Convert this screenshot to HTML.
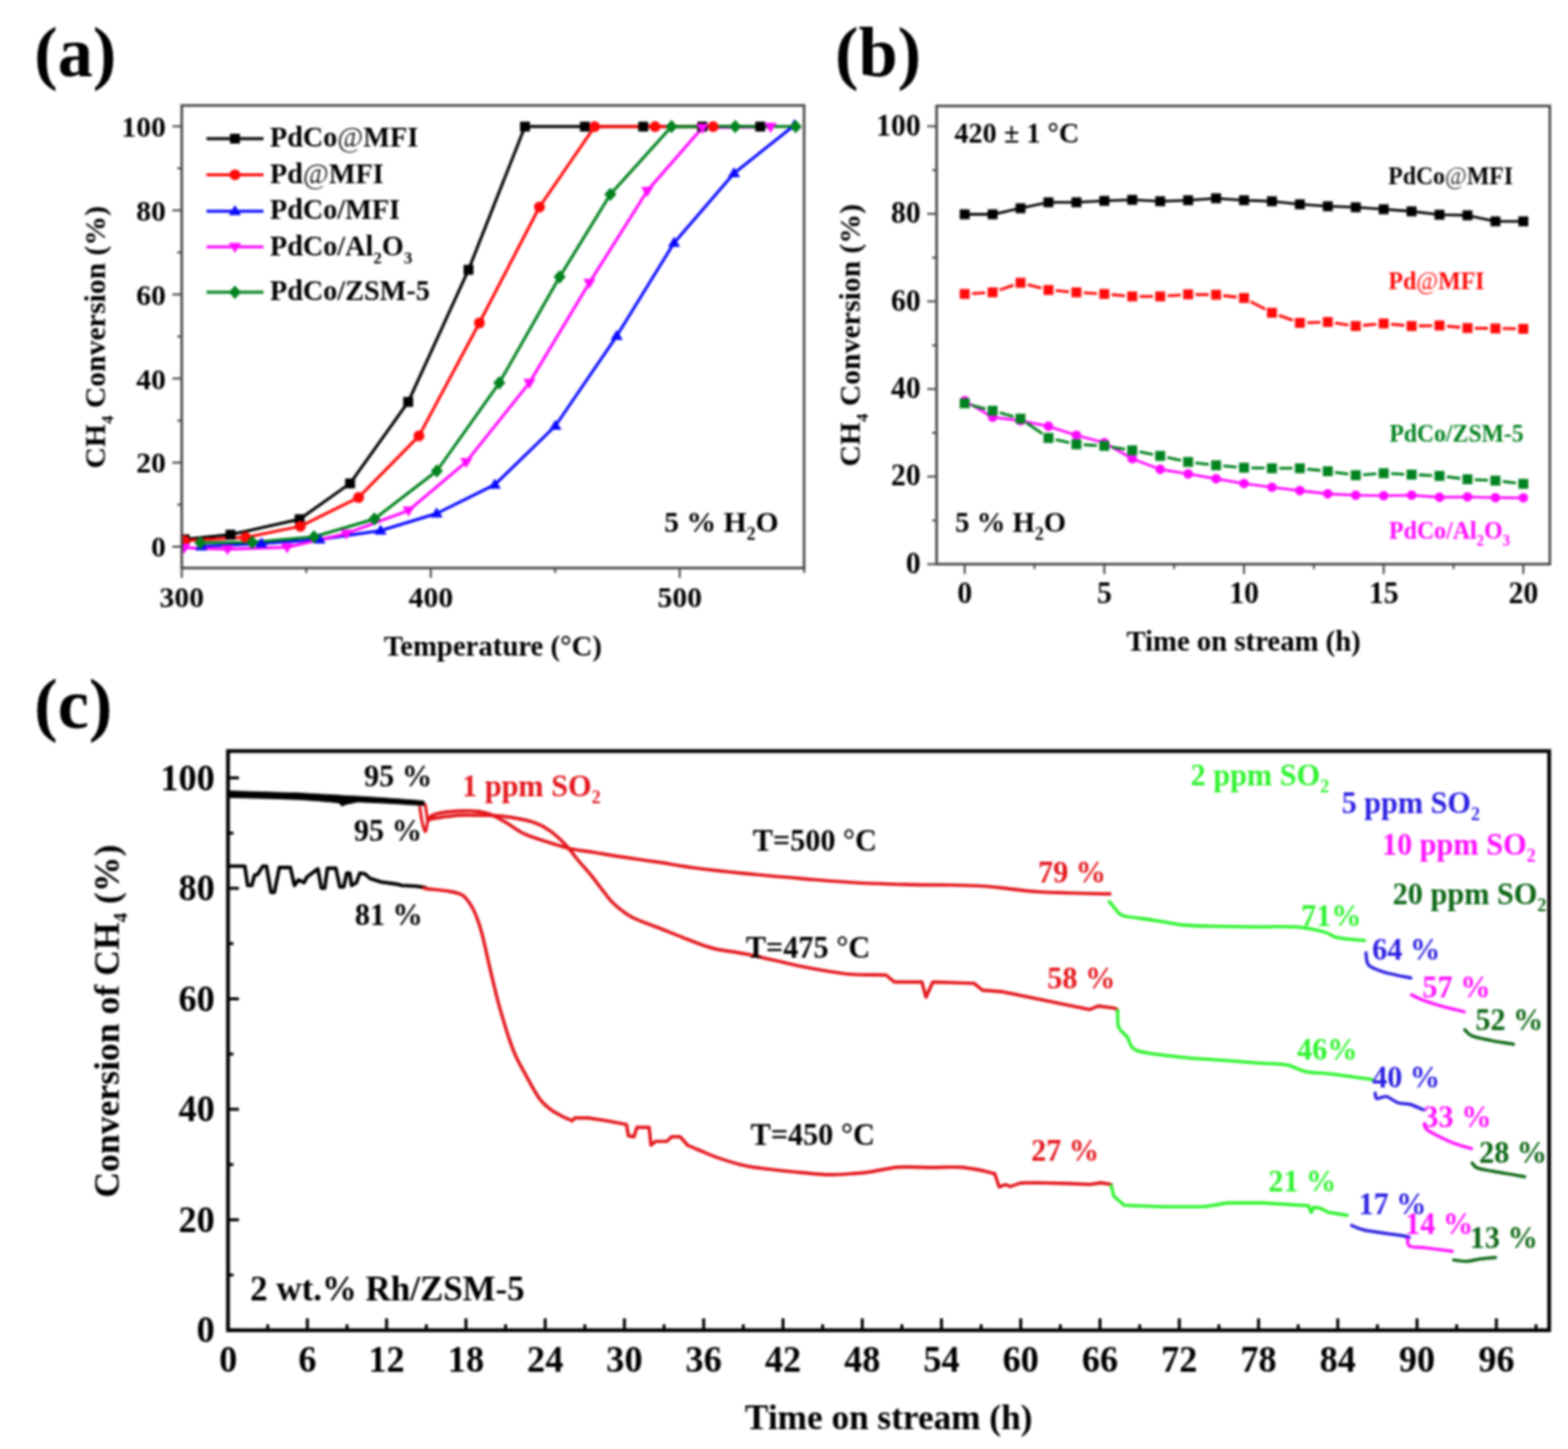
<!DOCTYPE html><html><head><meta charset="utf-8"><title>CH4 conversion figure</title><style>html,body{margin:0;padding:0;background:#fff;overflow:hidden}svg{display:block;filter:blur(0.8px)}text{font-family:'Liberation Serif','Times New Roman',serif;font-weight:bold}</style></head><body>
<svg width="1583" height="1463" viewBox="0 0 1583 1463">
<rect width="1583" height="1463" fill="#fff"/>
<text x="34.5" y="77.2" font-size="71" text-anchor="start" fill="#000" >(a)</text>
<text x="843" y="77.2" font-size="71" text-anchor="start" fill="#000" >(b)</text>
<text x="34.5" y="735" font-size="71" text-anchor="start" fill="#000" >(c)</text>
<line x1="174.0" y1="552.0" x2="183.5" y2="552.0" stroke="#484848" stroke-width="2"/>
<line x1="179.0" y1="509.6" x2="183.5" y2="509.6" stroke="#484848" stroke-width="2"/>
<line x1="174.0" y1="467.1" x2="183.5" y2="467.1" stroke="#484848" stroke-width="2"/>
<line x1="179.0" y1="424.6" x2="183.5" y2="424.6" stroke="#484848" stroke-width="2"/>
<line x1="174.0" y1="382.2" x2="183.5" y2="382.2" stroke="#484848" stroke-width="2"/>
<line x1="179.0" y1="339.8" x2="183.5" y2="339.8" stroke="#484848" stroke-width="2"/>
<line x1="174.0" y1="297.3" x2="183.5" y2="297.3" stroke="#484848" stroke-width="2"/>
<line x1="179.0" y1="254.8" x2="183.5" y2="254.8" stroke="#484848" stroke-width="2"/>
<line x1="174.0" y1="212.4" x2="183.5" y2="212.4" stroke="#484848" stroke-width="2"/>
<line x1="179.0" y1="169.9" x2="183.5" y2="169.9" stroke="#484848" stroke-width="2"/>
<line x1="174.0" y1="127.5" x2="183.5" y2="127.5" stroke="#484848" stroke-width="2"/>
<text x="167.5" y="562.3" font-size="30" text-anchor="end" fill="#000" >0</text>
<text x="167.5" y="477.4" font-size="30" text-anchor="end" fill="#000" >20</text>
<text x="167.5" y="392.5" font-size="30" text-anchor="end" fill="#000" >40</text>
<text x="167.5" y="307.6" font-size="30" text-anchor="end" fill="#000" >60</text>
<text x="167.5" y="222.7" font-size="30" text-anchor="end" fill="#000" >80</text>
<text x="167.5" y="137.8" font-size="30" text-anchor="end" fill="#000" >100</text>
<line x1="183.5" y1="573.5" x2="183.5" y2="583.5" stroke="#484848" stroke-width="2"/>
<line x1="309.2" y1="573.5" x2="309.2" y2="578.5" stroke="#484848" stroke-width="2"/>
<line x1="434.9" y1="573.5" x2="434.9" y2="583.5" stroke="#484848" stroke-width="2"/>
<line x1="560.5" y1="573.5" x2="560.5" y2="578.5" stroke="#484848" stroke-width="2"/>
<line x1="686.2" y1="573.5" x2="686.2" y2="583.5" stroke="#484848" stroke-width="2"/>
<line x1="811.9" y1="573.5" x2="811.9" y2="578.5" stroke="#484848" stroke-width="2"/>
<text x="183.5" y="612.5" font-size="30" text-anchor="middle" fill="#000" >300</text>
<text x="434.9" y="612.5" font-size="30" text-anchor="middle" fill="#000" >400</text>
<text x="686.2" y="612.5" font-size="30" text-anchor="middle" fill="#000" >500</text>
<text x="497.5" y="661.5" font-size="29" text-anchor="middle" fill="#000" >Temperature (°C)</text>
<text transform="translate(106,340.5) rotate(-90)" font-size="30" text-anchor="middle">CH<tspan font-size="17" dy="8">4</tspan><tspan dy="-8"> Conversion (%)</tspan></text>
<g clip-path="url(#clipA)">
<polyline points="186.5,544.5 232.7,539.8 302.5,524.2 353.4,488.1 412.1,405.8 473.0,272.4 530.0,127.8 590.5,127.8 649.4,127.8 709.0,127.8 767.5,127.8" fill="none" stroke="#000" stroke-width="3.0" stroke-linejoin="round" stroke-linecap="round" />
<polyline points="186.0,546.0 248.0,542.6 303.2,531.4 362.0,502.3 423.0,440.1 484.0,326.0 544.6,209.0 600.3,127.8 661.3,127.8 720.0,127.8" fill="none" stroke="#ff0a0a" stroke-width="3.0" stroke-linejoin="round" stroke-linecap="round" />
<polyline points="203.3,551.8 263.9,548.8 322.5,544.7 384.2,535.7 440.8,518.5 499.5,489.4 560.7,430.0 622.6,339.3 680.5,245.2 741.0,175.0 802.0,126.5" fill="none" stroke="#0a0aff" stroke-width="3.0" stroke-linejoin="round" stroke-linecap="round" />
<polyline points="186.0,553.0 229.6,554.4 289.8,552.5 349.8,538.7 412.5,515.4 470.7,466.4 534.4,386.6 595.0,285.6 653.4,192.8 709.0,129.0 778.0,128.0" fill="none" stroke="#ff0aff" stroke-width="3.0" stroke-linejoin="round" stroke-linecap="round" />
<polyline points="202.3,548.0 254.6,547.6 317.0,542.0 378.0,524.0 441.0,475.5 504.1,386.6 565.0,279.6 616.2,196.2 678.0,127.8 742.3,127.8 803.3,127.8" fill="none" stroke="#00821e" stroke-width="3.0" stroke-linejoin="round" stroke-linecap="round" />
<rect x="181.5" y="539.5" width="10" height="10" fill="#000"/>
<rect x="227.7" y="534.8" width="10" height="10" fill="#000"/>
<rect x="297.5" y="519.2" width="10" height="10" fill="#000"/>
<rect x="348.4" y="483.1" width="10" height="10" fill="#000"/>
<rect x="407.1" y="400.8" width="10" height="10" fill="#000"/>
<rect x="468.0" y="267.4" width="10" height="10" fill="#000"/>
<rect x="525.0" y="122.8" width="10" height="10" fill="#000"/>
<rect x="585.5" y="122.8" width="10" height="10" fill="#000"/>
<rect x="644.4" y="122.8" width="10" height="10" fill="#000"/>
<rect x="704.0" y="122.8" width="10" height="10" fill="#000"/>
<rect x="762.5" y="122.8" width="10" height="10" fill="#000"/>
<circle cx="186.0" cy="546.0" r="5.5" fill="#ff0a0a"/>
<circle cx="248.0" cy="542.6" r="5.5" fill="#ff0a0a"/>
<circle cx="303.2" cy="531.4" r="5.5" fill="#ff0a0a"/>
<circle cx="362.0" cy="502.3" r="5.5" fill="#ff0a0a"/>
<circle cx="423.0" cy="440.1" r="5.5" fill="#ff0a0a"/>
<circle cx="484.0" cy="326.0" r="5.5" fill="#ff0a0a"/>
<circle cx="544.6" cy="209.0" r="5.5" fill="#ff0a0a"/>
<circle cx="600.3" cy="127.8" r="5.5" fill="#ff0a0a"/>
<circle cx="661.3" cy="127.8" r="5.5" fill="#ff0a0a"/>
<circle cx="720.0" cy="127.8" r="5.5" fill="#ff0a0a"/>
<polygon points="203.3,545.6 209.5,555.8 197.1,555.8" fill="#0a0aff"/>
<polygon points="263.9,542.6 270.1,552.8 257.7,552.8" fill="#0a0aff"/>
<polygon points="322.5,538.5 328.7,548.7 316.3,548.7" fill="#0a0aff"/>
<polygon points="384.2,529.5 390.4,539.7 378.0,539.7" fill="#0a0aff"/>
<polygon points="440.8,512.3 447.0,522.5 434.6,522.5" fill="#0a0aff"/>
<polygon points="499.5,483.2 505.7,493.4 493.3,493.4" fill="#0a0aff"/>
<polygon points="560.7,423.8 566.9,434.0 554.5,434.0" fill="#0a0aff"/>
<polygon points="622.6,333.1 628.8,343.3 616.4,343.3" fill="#0a0aff"/>
<polygon points="680.5,239.0 686.7,249.2 674.3,249.2" fill="#0a0aff"/>
<polygon points="741.0,168.8 747.2,179.0 734.8,179.0" fill="#0a0aff"/>
<polygon points="802.0,120.3 808.2,130.5 795.8,130.5" fill="#0a0aff"/>
<polygon points="186.0,559.2 192.2,549.0 179.8,549.0" fill="#ff0aff"/>
<polygon points="229.6,560.6 235.8,550.4 223.4,550.4" fill="#ff0aff"/>
<polygon points="289.8,558.7 296.0,548.5 283.6,548.5" fill="#ff0aff"/>
<polygon points="349.8,544.9 356.0,534.7 343.6,534.7" fill="#ff0aff"/>
<polygon points="412.5,521.6 418.7,511.4 406.3,511.4" fill="#ff0aff"/>
<polygon points="470.7,472.6 476.9,462.4 464.5,462.4" fill="#ff0aff"/>
<polygon points="534.4,392.8 540.6,382.6 528.2,382.6" fill="#ff0aff"/>
<polygon points="595.0,291.8 601.2,281.6 588.8,281.6" fill="#ff0aff"/>
<polygon points="653.4,199.0 659.6,188.8 647.2,188.8" fill="#ff0aff"/>
<polygon points="709.0,135.2 715.2,125.0 702.8,125.0" fill="#ff0aff"/>
<polygon points="778.0,134.2 784.2,124.0 771.8,124.0" fill="#ff0aff"/>
<polygon points="202.3,541.2 208.4,548.0 202.3,554.8 196.2,548.0" fill="#00821e"/>
<polygon points="254.6,540.8 260.7,547.6 254.6,554.4 248.5,547.6" fill="#00821e"/>
<polygon points="317.0,535.2 323.1,542.0 317.0,548.8 310.9,542.0" fill="#00821e"/>
<polygon points="378.0,517.2 384.1,524.0 378.0,530.8 371.9,524.0" fill="#00821e"/>
<polygon points="441.0,468.7 447.1,475.5 441.0,482.3 434.9,475.5" fill="#00821e"/>
<polygon points="504.1,379.8 510.2,386.6 504.1,393.4 498.0,386.6" fill="#00821e"/>
<polygon points="565.0,272.8 571.1,279.6 565.0,286.4 558.9,279.6" fill="#00821e"/>
<polygon points="616.2,189.4 622.3,196.2 616.2,203.0 610.1,196.2" fill="#00821e"/>
<polygon points="678.0,121.0 684.1,127.8 678.0,134.6 671.9,127.8" fill="#00821e"/>
<polygon points="742.3,121.0 748.4,127.8 742.3,134.6 736.2,127.8" fill="#00821e"/>
<polygon points="803.3,121.0 809.4,127.8 803.3,134.6 797.2,127.8" fill="#00821e"/>
</g>
<clipPath id="clipA"><rect x="183.5" y="106.5" width="628.3" height="467.0"/></clipPath>
<rect x="183.5" y="106.5" width="628.3" height="467.0" fill="none" stroke="#484848" stroke-width="2.6"/>
<line x1="208.5" y1="140.0" x2="266.0" y2="140.0" stroke="#000" stroke-width="3"/>
<rect x="232.2" y="135.0" width="10" height="10" fill="#000"/>
<text x="272.5" y="148" font-size="28.5" text-anchor="start" fill="#000" >PdCo<tspan fill="#222" font-weight="normal">@</tspan>MFI</text>
<line x1="208.5" y1="176.4" x2="266.0" y2="176.4" stroke="#ff0a0a" stroke-width="3"/>
<circle cx="237.2" cy="176.4" r="5.5" fill="#ff0a0a"/>
<text x="272.5" y="184.7" font-size="28.5" text-anchor="start" fill="#000" >Pd<tspan fill="#222" font-weight="normal">@</tspan>MFI</text>
<line x1="208.5" y1="213.2" x2="266.0" y2="213.2" stroke="#0a0aff" stroke-width="3"/>
<polygon points="237.2,207.0 243.4,217.2 231.0,217.2" fill="#0a0aff"/>
<text x="272.5" y="221.1" font-size="28.5" text-anchor="start" fill="#000" >PdCo/MFI</text>
<line x1="208.5" y1="249.2" x2="266.0" y2="249.2" stroke="#ff0aff" stroke-width="3"/>
<polygon points="237.2,255.4 243.4,245.2 231.0,245.2" fill="#ff0aff"/>
<line x1="208.5" y1="295.1" x2="266.0" y2="295.1" stroke="#00821e" stroke-width="3"/>
<polygon points="237.2,288.3 243.3,295.1 237.2,301.9 231.1,295.1" fill="#00821e"/>
<text x="272.5" y="303" font-size="28.5" text-anchor="start" fill="#000" >PdCo/ZSM-5</text>
<text x="272.5" y="257.5" font-size="28.5" text-anchor="start" fill="#000" >PdCo/Al<tspan font-size="17" dy="8">2</tspan><tspan dy="-8">O</tspan><tspan font-size="17" dy="8">3</tspan></text>
<text x="670.5" y="536.8" font-size="30" text-anchor="start" fill="#000" >5 % H<tspan font-size="18" dy="8">2</tspan><tspan dy="-8">O</tspan></text>
<line x1="936.1" y1="569.6" x2="945.6" y2="569.6" stroke="#484848" stroke-width="2"/>
<line x1="941.1" y1="525.4" x2="945.6" y2="525.4" stroke="#484848" stroke-width="2"/>
<line x1="936.1" y1="481.2" x2="945.6" y2="481.2" stroke="#484848" stroke-width="2"/>
<line x1="941.1" y1="437.0" x2="945.6" y2="437.0" stroke="#484848" stroke-width="2"/>
<line x1="936.1" y1="392.8" x2="945.6" y2="392.8" stroke="#484848" stroke-width="2"/>
<line x1="941.1" y1="348.6" x2="945.6" y2="348.6" stroke="#484848" stroke-width="2"/>
<line x1="936.1" y1="304.3" x2="945.6" y2="304.3" stroke="#484848" stroke-width="2"/>
<line x1="941.1" y1="260.1" x2="945.6" y2="260.1" stroke="#484848" stroke-width="2"/>
<line x1="936.1" y1="215.9" x2="945.6" y2="215.9" stroke="#484848" stroke-width="2"/>
<line x1="941.1" y1="171.7" x2="945.6" y2="171.7" stroke="#484848" stroke-width="2"/>
<line x1="936.1" y1="127.5" x2="945.6" y2="127.5" stroke="#484848" stroke-width="2"/>
<text transform="translate(929.5,578.8) scale(0.96,1)" x="0" y="0" font-size="31.3" text-anchor="end" fill="#000" >0</text>
<text transform="translate(929.5,490.4) scale(0.96,1)" x="0" y="0" font-size="31.3" text-anchor="end" fill="#000" >20</text>
<text transform="translate(929.5,402.0) scale(0.96,1)" x="0" y="0" font-size="31.3" text-anchor="end" fill="#000" >40</text>
<text transform="translate(929.5,313.5) scale(0.96,1)" x="0" y="0" font-size="31.3" text-anchor="end" fill="#000" >60</text>
<text transform="translate(929.5,225.1) scale(0.96,1)" x="0" y="0" font-size="31.3" text-anchor="end" fill="#000" >80</text>
<text transform="translate(929.5,136.7) scale(0.96,1)" x="0" y="0" font-size="31.3" text-anchor="end" fill="#000" >100</text>
<line x1="973.9" y1="569.6" x2="973.9" y2="579.6" stroke="#484848" stroke-width="2"/>
<line x1="1044.4" y1="569.6" x2="1044.4" y2="574.6" stroke="#484848" stroke-width="2"/>
<line x1="1114.9" y1="569.6" x2="1114.9" y2="579.6" stroke="#484848" stroke-width="2"/>
<line x1="1185.4" y1="569.6" x2="1185.4" y2="574.6" stroke="#484848" stroke-width="2"/>
<line x1="1255.9" y1="569.6" x2="1255.9" y2="579.6" stroke="#484848" stroke-width="2"/>
<line x1="1326.4" y1="569.6" x2="1326.4" y2="574.6" stroke="#484848" stroke-width="2"/>
<line x1="1396.9" y1="569.6" x2="1396.9" y2="579.6" stroke="#484848" stroke-width="2"/>
<line x1="1467.4" y1="569.6" x2="1467.4" y2="574.6" stroke="#484848" stroke-width="2"/>
<line x1="1537.9" y1="569.6" x2="1537.9" y2="579.6" stroke="#484848" stroke-width="2"/>
<text transform="translate(973.9,608.6) scale(0.96,1)" x="0" y="0" font-size="31.3" text-anchor="middle" fill="#000" >0</text>
<text transform="translate(1114.9,608.6) scale(0.96,1)" x="0" y="0" font-size="31.3" text-anchor="middle" fill="#000" >5</text>
<text transform="translate(1255.9,608.6) scale(0.96,1)" x="0" y="0" font-size="31.3" text-anchor="middle" fill="#000" >10</text>
<text transform="translate(1396.9,608.6) scale(0.96,1)" x="0" y="0" font-size="31.3" text-anchor="middle" fill="#000" >15</text>
<text transform="translate(1537.9,608.6) scale(0.96,1)" x="0" y="0" font-size="31.3" text-anchor="middle" fill="#000" >20</text>
<text x="1255.5" y="656.8" font-size="29" text-anchor="middle" fill="#000" >Time on stream (h)</text>
<text transform="translate(868,338.5) rotate(-90)" font-size="30" text-anchor="middle">CH<tspan font-size="17" dy="8">4</tspan><tspan dy="-8"> Conversion (%)</tspan></text>
<polyline points="973.9,404.6 1002.1,421.3 1030.3,424.8 1058.5,430.4 1086.7,439.5 1114.9,447.0 1143.1,463.2 1171.3,473.9 1199.5,478.5 1227.7,483.4 1255.9,488.2 1284.1,492.0 1312.3,495.4 1340.5,498.6 1368.7,500.0 1396.9,500.5 1425.1,500.0 1453.3,502.1 1481.5,501.7 1509.7,502.5 1537.9,502.7" fill="none" stroke="#ff0aff" stroke-width="2.6" stroke-linejoin="round" stroke-linecap="round" />
<circle cx="973.9" cy="404.6" r="4.8" fill="#ff0aff"/>
<circle cx="1002.1" cy="421.3" r="4.8" fill="#ff0aff"/>
<circle cx="1030.3" cy="424.8" r="4.8" fill="#ff0aff"/>
<circle cx="1058.5" cy="430.4" r="4.8" fill="#ff0aff"/>
<circle cx="1086.7" cy="439.5" r="4.8" fill="#ff0aff"/>
<circle cx="1114.9" cy="447.0" r="4.8" fill="#ff0aff"/>
<circle cx="1143.1" cy="463.2" r="4.8" fill="#ff0aff"/>
<circle cx="1171.3" cy="473.9" r="4.8" fill="#ff0aff"/>
<circle cx="1199.5" cy="478.5" r="4.8" fill="#ff0aff"/>
<circle cx="1227.7" cy="483.4" r="4.8" fill="#ff0aff"/>
<circle cx="1255.9" cy="488.2" r="4.8" fill="#ff0aff"/>
<circle cx="1284.1" cy="492.0" r="4.8" fill="#ff0aff"/>
<circle cx="1312.3" cy="495.4" r="4.8" fill="#ff0aff"/>
<circle cx="1340.5" cy="498.6" r="4.8" fill="#ff0aff"/>
<circle cx="1368.7" cy="500.0" r="4.8" fill="#ff0aff"/>
<circle cx="1396.9" cy="500.5" r="4.8" fill="#ff0aff"/>
<circle cx="1425.1" cy="500.0" r="4.8" fill="#ff0aff"/>
<circle cx="1453.3" cy="502.1" r="4.8" fill="#ff0aff"/>
<circle cx="1481.5" cy="501.7" r="4.8" fill="#ff0aff"/>
<circle cx="1509.7" cy="502.5" r="4.8" fill="#ff0aff"/>
<circle cx="1537.9" cy="502.7" r="4.8" fill="#ff0aff"/>
<line x1="981.1" y1="409.1" x2="994.9" y2="412.8" stroke="#00821e" stroke-width="2.8"/>
<line x1="1009.3" y1="416.7" x2="1023.1" y2="420.7" stroke="#00821e" stroke-width="2.8"/>
<line x1="1036.5" y1="427.0" x2="1052.3" y2="437.9" stroke="#00821e" stroke-width="2.8"/>
<line x1="1065.8" y1="443.9" x2="1079.4" y2="446.9" stroke="#00821e" stroke-width="2.8"/>
<line x1="1094.2" y1="449.0" x2="1107.4" y2="449.8" stroke="#00821e" stroke-width="2.8"/>
<line x1="1122.3" y1="451.4" x2="1135.7" y2="453.5" stroke="#00821e" stroke-width="2.8"/>
<line x1="1150.5" y1="456.2" x2="1163.9" y2="458.8" stroke="#00821e" stroke-width="2.8"/>
<line x1="1178.6" y1="461.9" x2="1192.2" y2="464.8" stroke="#00821e" stroke-width="2.8"/>
<line x1="1206.9" y1="467.3" x2="1220.3" y2="468.9" stroke="#00821e" stroke-width="2.8"/>
<line x1="1235.2" y1="470.4" x2="1248.4" y2="471.6" stroke="#00821e" stroke-width="2.8"/>
<line x1="1263.4" y1="472.4" x2="1276.6" y2="472.6" stroke="#00821e" stroke-width="2.8"/>
<line x1="1291.6" y1="472.8" x2="1304.8" y2="472.8" stroke="#00821e" stroke-width="2.8"/>
<line x1="1319.8" y1="473.6" x2="1333.0" y2="475.0" stroke="#00821e" stroke-width="2.8"/>
<line x1="1347.9" y1="476.9" x2="1361.3" y2="478.7" stroke="#00821e" stroke-width="2.8"/>
<line x1="1376.2" y1="479.3" x2="1389.4" y2="478.3" stroke="#00821e" stroke-width="2.8"/>
<line x1="1404.4" y1="478.2" x2="1417.6" y2="478.8" stroke="#00821e" stroke-width="2.8"/>
<line x1="1432.6" y1="479.5" x2="1445.8" y2="480.2" stroke="#00821e" stroke-width="2.8"/>
<line x1="1460.7" y1="481.4" x2="1474.1" y2="483.0" stroke="#00821e" stroke-width="2.8"/>
<line x1="1489.0" y1="484.3" x2="1502.2" y2="484.9" stroke="#00821e" stroke-width="2.8"/>
<line x1="1517.2" y1="486.1" x2="1530.4" y2="487.7" stroke="#00821e" stroke-width="2.8"/>
<rect x="968.9" y="402.2" width="10" height="10" fill="#00821e"/>
<rect x="997.1" y="409.7" width="10" height="10" fill="#00821e"/>
<rect x="1025.3" y="417.7" width="10" height="10" fill="#00821e"/>
<rect x="1053.5" y="437.2" width="10" height="10" fill="#00821e"/>
<rect x="1081.7" y="443.6" width="10" height="10" fill="#00821e"/>
<rect x="1109.9" y="445.2" width="10" height="10" fill="#00821e"/>
<rect x="1138.1" y="449.7" width="10" height="10" fill="#00821e"/>
<rect x="1166.3" y="455.3" width="10" height="10" fill="#00821e"/>
<rect x="1194.5" y="461.4" width="10" height="10" fill="#00821e"/>
<rect x="1222.7" y="464.8" width="10" height="10" fill="#00821e"/>
<rect x="1250.9" y="467.2" width="10" height="10" fill="#00821e"/>
<rect x="1279.1" y="467.8" width="10" height="10" fill="#00821e"/>
<rect x="1307.3" y="467.8" width="10" height="10" fill="#00821e"/>
<rect x="1335.5" y="470.8" width="10" height="10" fill="#00821e"/>
<rect x="1363.7" y="474.8" width="10" height="10" fill="#00821e"/>
<rect x="1391.9" y="472.8" width="10" height="10" fill="#00821e"/>
<rect x="1420.1" y="474.2" width="10" height="10" fill="#00821e"/>
<rect x="1448.3" y="475.5" width="10" height="10" fill="#00821e"/>
<rect x="1476.5" y="478.9" width="10" height="10" fill="#00821e"/>
<rect x="1504.7" y="480.3" width="10" height="10" fill="#00821e"/>
<rect x="1532.9" y="483.5" width="10" height="10" fill="#00821e"/>
<line x1="981.4" y1="296.4" x2="994.6" y2="295.6" stroke="#ff0a0a" stroke-width="2.8"/>
<line x1="1009.2" y1="292.8" x2="1023.2" y2="287.9" stroke="#ff0a0a" stroke-width="2.8"/>
<line x1="1037.6" y1="287.4" x2="1051.2" y2="290.9" stroke="#ff0a0a" stroke-width="2.8"/>
<line x1="1066.0" y1="293.4" x2="1079.2" y2="294.6" stroke="#ff0a0a" stroke-width="2.8"/>
<line x1="1094.2" y1="295.6" x2="1107.4" y2="296.4" stroke="#ff0a0a" stroke-width="2.8"/>
<line x1="1122.4" y1="297.5" x2="1135.6" y2="298.6" stroke="#ff0a0a" stroke-width="2.8"/>
<line x1="1150.6" y1="299.3" x2="1163.8" y2="299.3" stroke="#ff0a0a" stroke-width="2.8"/>
<line x1="1178.8" y1="298.7" x2="1192.0" y2="297.8" stroke="#ff0a0a" stroke-width="2.8"/>
<line x1="1207.0" y1="297.3" x2="1220.2" y2="297.5" stroke="#ff0a0a" stroke-width="2.8"/>
<line x1="1235.1" y1="298.5" x2="1248.5" y2="300.0" stroke="#ff0a0a" stroke-width="2.8"/>
<line x1="1262.5" y1="304.4" x2="1277.5" y2="312.3" stroke="#ff0a0a" stroke-width="2.8"/>
<line x1="1291.2" y1="318.4" x2="1305.2" y2="323.4" stroke="#ff0a0a" stroke-width="2.8"/>
<line x1="1319.8" y1="325.8" x2="1333.0" y2="325.3" stroke="#ff0a0a" stroke-width="2.8"/>
<line x1="1347.9" y1="326.2" x2="1361.3" y2="328.1" stroke="#ff0a0a" stroke-width="2.8"/>
<line x1="1376.2" y1="328.5" x2="1389.4" y2="327.3" stroke="#ff0a0a" stroke-width="2.8"/>
<line x1="1404.4" y1="327.3" x2="1417.6" y2="328.5" stroke="#ff0a0a" stroke-width="2.8"/>
<line x1="1432.6" y1="329.0" x2="1445.8" y2="328.8" stroke="#ff0a0a" stroke-width="2.8"/>
<line x1="1460.8" y1="329.3" x2="1474.0" y2="330.5" stroke="#ff0a0a" stroke-width="2.8"/>
<line x1="1489.0" y1="331.3" x2="1502.2" y2="331.5" stroke="#ff0a0a" stroke-width="2.8"/>
<line x1="1517.2" y1="331.7" x2="1530.4" y2="331.9" stroke="#ff0a0a" stroke-width="2.8"/>
<rect x="968.9" y="291.8" width="10" height="10" fill="#ff0a0a"/>
<rect x="997.1" y="290.2" width="10" height="10" fill="#ff0a0a"/>
<rect x="1025.3" y="280.5" width="10" height="10" fill="#ff0a0a"/>
<rect x="1053.5" y="287.8" width="10" height="10" fill="#ff0a0a"/>
<rect x="1081.7" y="290.2" width="10" height="10" fill="#ff0a0a"/>
<rect x="1109.9" y="291.8" width="10" height="10" fill="#ff0a0a"/>
<rect x="1138.1" y="294.3" width="10" height="10" fill="#ff0a0a"/>
<rect x="1166.3" y="294.3" width="10" height="10" fill="#ff0a0a"/>
<rect x="1194.5" y="292.2" width="10" height="10" fill="#ff0a0a"/>
<rect x="1222.7" y="292.6" width="10" height="10" fill="#ff0a0a"/>
<rect x="1250.9" y="295.9" width="10" height="10" fill="#ff0a0a"/>
<rect x="1279.1" y="310.8" width="10" height="10" fill="#ff0a0a"/>
<rect x="1307.3" y="321.0" width="10" height="10" fill="#ff0a0a"/>
<rect x="1335.5" y="320.1" width="10" height="10" fill="#ff0a0a"/>
<rect x="1363.7" y="324.2" width="10" height="10" fill="#ff0a0a"/>
<rect x="1391.9" y="321.6" width="10" height="10" fill="#ff0a0a"/>
<rect x="1420.1" y="324.2" width="10" height="10" fill="#ff0a0a"/>
<rect x="1448.3" y="323.6" width="10" height="10" fill="#ff0a0a"/>
<rect x="1476.5" y="326.2" width="10" height="10" fill="#ff0a0a"/>
<rect x="1504.7" y="326.6" width="10" height="10" fill="#ff0a0a"/>
<rect x="1532.9" y="327.0" width="10" height="10" fill="#ff0a0a"/>
<polyline points="973.9,216.4 1002.1,216.4 1030.3,210.3 1058.5,204.3 1086.7,204.3 1114.9,202.8 1143.1,201.8 1171.3,203.2 1199.5,202.2 1227.7,200.2 1255.9,202.2 1284.1,203.2 1312.3,206.3 1340.5,208.3 1368.7,209.3 1396.9,211.3 1425.1,213.4 1453.3,216.8 1481.5,217.4 1509.7,223.5 1537.9,223.5" fill="none" stroke="#000" stroke-width="2.6" stroke-linejoin="round" stroke-linecap="round" />
<rect x="968.9" y="211.4" width="10" height="10" fill="#000"/>
<rect x="997.1" y="211.4" width="10" height="10" fill="#000"/>
<rect x="1025.3" y="205.3" width="10" height="10" fill="#000"/>
<rect x="1053.5" y="199.3" width="10" height="10" fill="#000"/>
<rect x="1081.7" y="199.3" width="10" height="10" fill="#000"/>
<rect x="1109.9" y="197.8" width="10" height="10" fill="#000"/>
<rect x="1138.1" y="196.8" width="10" height="10" fill="#000"/>
<rect x="1166.3" y="198.2" width="10" height="10" fill="#000"/>
<rect x="1194.5" y="197.2" width="10" height="10" fill="#000"/>
<rect x="1222.7" y="195.2" width="10" height="10" fill="#000"/>
<rect x="1250.9" y="197.2" width="10" height="10" fill="#000"/>
<rect x="1279.1" y="198.2" width="10" height="10" fill="#000"/>
<rect x="1307.3" y="201.3" width="10" height="10" fill="#000"/>
<rect x="1335.5" y="203.3" width="10" height="10" fill="#000"/>
<rect x="1363.7" y="204.3" width="10" height="10" fill="#000"/>
<rect x="1391.9" y="206.3" width="10" height="10" fill="#000"/>
<rect x="1420.1" y="208.4" width="10" height="10" fill="#000"/>
<rect x="1448.3" y="211.8" width="10" height="10" fill="#000"/>
<rect x="1476.5" y="212.4" width="10" height="10" fill="#000"/>
<rect x="1504.7" y="218.5" width="10" height="10" fill="#000"/>
<rect x="1532.9" y="218.5" width="10" height="10" fill="#000"/>
<rect x="945.6" y="107.0" width="619.1" height="462.6" fill="none" stroke="#484848" stroke-width="2.6"/>
<text x="963.5" y="144" font-size="28.5" text-anchor="start" fill="#000" >420 ± 1 °C</text>
<text x="1401.5" y="185.6" font-size="26" text-anchor="start" fill="#000" textLength="126" lengthAdjust="spacingAndGlyphs" >PdCo<tspan fill="#333" font-weight="normal">@</tspan>MFI</text>
<text x="1401.7" y="291.5" font-size="26" text-anchor="start" fill="#ff0a0a" textLength="97" lengthAdjust="spacingAndGlyphs" >Pd<tspan font-weight="normal">@</tspan>MFI</text>
<text x="1402.7" y="446" font-size="26" text-anchor="start" fill="#00821e" textLength="135.5" lengthAdjust="spacingAndGlyphs" >PdCo/ZSM-5</text>
<text transform="translate(1402.2,543.5) scale(0.93,1)" x="0" y="0" font-size="26" text-anchor="start" fill="#ff0aff" >PdCo/Al<tspan font-size="16" dy="7">2</tspan><tspan dy="-7">O</tspan><tspan font-size="16" dy="7">3</tspan></text>
<text x="964.3" y="537" font-size="29" text-anchor="start" fill="#000" >5 % H<tspan font-size="18" dy="8">2</tspan><tspan dy="-8">O</tspan></text>
<line x1="230.2" y1="1343.1" x2="241.2" y2="1343.1" stroke="#000" stroke-width="3"/>
<line x1="230.2" y1="1287.3" x2="235.7" y2="1287.3" stroke="#000" stroke-width="3"/>
<line x1="230.2" y1="1231.6" x2="241.2" y2="1231.6" stroke="#000" stroke-width="3"/>
<line x1="230.2" y1="1175.8" x2="235.7" y2="1175.8" stroke="#000" stroke-width="3"/>
<line x1="230.2" y1="1120.0" x2="241.2" y2="1120.0" stroke="#000" stroke-width="3"/>
<line x1="230.2" y1="1064.2" x2="235.7" y2="1064.2" stroke="#000" stroke-width="3"/>
<line x1="230.2" y1="1008.5" x2="241.2" y2="1008.5" stroke="#000" stroke-width="3"/>
<line x1="230.2" y1="952.7" x2="235.7" y2="952.7" stroke="#000" stroke-width="3"/>
<line x1="230.2" y1="896.9" x2="241.2" y2="896.9" stroke="#000" stroke-width="3"/>
<line x1="230.2" y1="841.2" x2="235.7" y2="841.2" stroke="#000" stroke-width="3"/>
<line x1="230.2" y1="785.4" x2="241.2" y2="785.4" stroke="#000" stroke-width="3"/>
<text transform="translate(216.8,1355.4) scale(0.95,1)" x="0" y="0" font-size="38.5" text-anchor="end" fill="#000" >0</text>
<text transform="translate(216.8,1243.9) scale(0.95,1)" x="0" y="0" font-size="38.5" text-anchor="end" fill="#000" >20</text>
<text transform="translate(216.8,1132.3) scale(0.95,1)" x="0" y="0" font-size="38.5" text-anchor="end" fill="#000" >40</text>
<text transform="translate(216.8,1020.8) scale(0.95,1)" x="0" y="0" font-size="38.5" text-anchor="end" fill="#000" >60</text>
<text transform="translate(216.8,909.2) scale(0.95,1)" x="0" y="0" font-size="38.5" text-anchor="end" fill="#000" >80</text>
<text transform="translate(216.8,797.7) scale(0.95,1)" x="0" y="0" font-size="38.5" text-anchor="end" fill="#000" >100</text>
<line x1="230.3" y1="1343.1" x2="230.3" y2="1331.1" stroke="#000" stroke-width="3"/>
<line x1="270.3" y1="1343.1" x2="270.3" y2="1337.1" stroke="#000" stroke-width="3"/>
<line x1="310.3" y1="1343.1" x2="310.3" y2="1331.1" stroke="#000" stroke-width="3"/>
<line x1="350.3" y1="1343.1" x2="350.3" y2="1337.1" stroke="#000" stroke-width="3"/>
<line x1="390.3" y1="1343.1" x2="390.3" y2="1331.1" stroke="#000" stroke-width="3"/>
<line x1="430.4" y1="1343.1" x2="430.4" y2="1337.1" stroke="#000" stroke-width="3"/>
<line x1="470.4" y1="1343.1" x2="470.4" y2="1331.1" stroke="#000" stroke-width="3"/>
<line x1="510.4" y1="1343.1" x2="510.4" y2="1337.1" stroke="#000" stroke-width="3"/>
<line x1="550.4" y1="1343.1" x2="550.4" y2="1331.1" stroke="#000" stroke-width="3"/>
<line x1="590.4" y1="1343.1" x2="590.4" y2="1337.1" stroke="#000" stroke-width="3"/>
<line x1="630.4" y1="1343.1" x2="630.4" y2="1331.1" stroke="#000" stroke-width="3"/>
<line x1="670.4" y1="1343.1" x2="670.4" y2="1337.1" stroke="#000" stroke-width="3"/>
<line x1="710.4" y1="1343.1" x2="710.4" y2="1331.1" stroke="#000" stroke-width="3"/>
<line x1="750.4" y1="1343.1" x2="750.4" y2="1337.1" stroke="#000" stroke-width="3"/>
<line x1="790.5" y1="1343.1" x2="790.5" y2="1331.1" stroke="#000" stroke-width="3"/>
<line x1="830.5" y1="1343.1" x2="830.5" y2="1337.1" stroke="#000" stroke-width="3"/>
<line x1="870.5" y1="1343.1" x2="870.5" y2="1331.1" stroke="#000" stroke-width="3"/>
<line x1="910.5" y1="1343.1" x2="910.5" y2="1337.1" stroke="#000" stroke-width="3"/>
<line x1="950.5" y1="1343.1" x2="950.5" y2="1331.1" stroke="#000" stroke-width="3"/>
<line x1="990.5" y1="1343.1" x2="990.5" y2="1337.1" stroke="#000" stroke-width="3"/>
<line x1="1030.5" y1="1343.1" x2="1030.5" y2="1331.1" stroke="#000" stroke-width="3"/>
<line x1="1070.5" y1="1343.1" x2="1070.5" y2="1337.1" stroke="#000" stroke-width="3"/>
<line x1="1110.5" y1="1343.1" x2="1110.5" y2="1331.1" stroke="#000" stroke-width="3"/>
<line x1="1150.6" y1="1343.1" x2="1150.6" y2="1337.1" stroke="#000" stroke-width="3"/>
<line x1="1190.6" y1="1343.1" x2="1190.6" y2="1331.1" stroke="#000" stroke-width="3"/>
<line x1="1230.6" y1="1343.1" x2="1230.6" y2="1337.1" stroke="#000" stroke-width="3"/>
<line x1="1270.6" y1="1343.1" x2="1270.6" y2="1331.1" stroke="#000" stroke-width="3"/>
<line x1="1310.6" y1="1343.1" x2="1310.6" y2="1337.1" stroke="#000" stroke-width="3"/>
<line x1="1350.6" y1="1343.1" x2="1350.6" y2="1331.1" stroke="#000" stroke-width="3"/>
<line x1="1390.6" y1="1343.1" x2="1390.6" y2="1337.1" stroke="#000" stroke-width="3"/>
<line x1="1430.6" y1="1343.1" x2="1430.6" y2="1331.1" stroke="#000" stroke-width="3"/>
<line x1="1470.6" y1="1343.1" x2="1470.6" y2="1337.1" stroke="#000" stroke-width="3"/>
<line x1="1510.7" y1="1343.1" x2="1510.7" y2="1331.1" stroke="#000" stroke-width="3"/>
<line x1="1550.7" y1="1343.1" x2="1550.7" y2="1337.1" stroke="#000" stroke-width="3"/>
<text transform="translate(230.3,1385.2) scale(0.95,1)" x="0" y="0" font-size="38.5" text-anchor="middle" fill="#000" >0</text>
<text transform="translate(310.3,1385.2) scale(0.95,1)" x="0" y="0" font-size="38.5" text-anchor="middle" fill="#000" >6</text>
<text transform="translate(390.3,1385.2) scale(0.95,1)" x="0" y="0" font-size="38.5" text-anchor="middle" fill="#000" >12</text>
<text transform="translate(470.4,1385.2) scale(0.95,1)" x="0" y="0" font-size="38.5" text-anchor="middle" fill="#000" >18</text>
<text transform="translate(550.4,1385.2) scale(0.95,1)" x="0" y="0" font-size="38.5" text-anchor="middle" fill="#000" >24</text>
<text transform="translate(630.4,1385.2) scale(0.95,1)" x="0" y="0" font-size="38.5" text-anchor="middle" fill="#000" >30</text>
<text transform="translate(710.4,1385.2) scale(0.95,1)" x="0" y="0" font-size="38.5" text-anchor="middle" fill="#000" >36</text>
<text transform="translate(790.5,1385.2) scale(0.95,1)" x="0" y="0" font-size="38.5" text-anchor="middle" fill="#000" >42</text>
<text transform="translate(870.5,1385.2) scale(0.95,1)" x="0" y="0" font-size="38.5" text-anchor="middle" fill="#000" >48</text>
<text transform="translate(950.5,1385.2) scale(0.95,1)" x="0" y="0" font-size="38.5" text-anchor="middle" fill="#000" >54</text>
<text transform="translate(1030.5,1385.2) scale(0.95,1)" x="0" y="0" font-size="38.5" text-anchor="middle" fill="#000" >60</text>
<text transform="translate(1110.5,1385.2) scale(0.95,1)" x="0" y="0" font-size="38.5" text-anchor="middle" fill="#000" >66</text>
<text transform="translate(1190.6,1385.2) scale(0.95,1)" x="0" y="0" font-size="38.5" text-anchor="middle" fill="#000" >72</text>
<text transform="translate(1270.6,1385.2) scale(0.95,1)" x="0" y="0" font-size="38.5" text-anchor="middle" fill="#000" >78</text>
<text transform="translate(1350.6,1385.2) scale(0.95,1)" x="0" y="0" font-size="38.5" text-anchor="middle" fill="#000" >84</text>
<text transform="translate(1430.6,1385.2) scale(0.95,1)" x="0" y="0" font-size="38.5" text-anchor="middle" fill="#000" >90</text>
<text transform="translate(1510.7,1385.2) scale(0.95,1)" x="0" y="0" font-size="38.5" text-anchor="middle" fill="#000" >96</text>
<text transform="translate(897.2,1443.4) scale(0.97,1)" x="0" y="0" font-size="36.7" text-anchor="middle" fill="#000" >Time on stream (h)</text>
<text transform="translate(120,1031) rotate(-90)" font-size="36" text-anchor="middle">Conversion of CH<tspan font-size="19" dy="8">4</tspan><tspan dy="-8"> (%)</tspan></text>
<polygon points="231,798.6 250,799.2 270,799.8 290,800.4 300,800.6 320,801.8 343,803.0 350,803.6 361,804.0 380,805.2 400,806.6 425,808.4 428.5,809.2 428.5,813.2 425,813.2 400,811.6 380,810.6 361,809.7 349,812.2 345.4,814.0 342,810.6 320,808.6 300,807.2 290,806.9 270,806.2 250,805.8 231,805.3" fill="#000" stroke="#000" stroke-width="0.8" stroke-linejoin="round"/>
<polyline points="231.5,874.5 247.2,874.5 250.0,894.0 254.2,894.0 257.0,883.5 260.0,883.0 265.3,874.5 269.0,874.5 273.6,901.0 277.0,901.0 282.0,875.9 293.1,875.9 297.3,894.0 301.4,888.4 307.0,891.2 309.8,885.6 320.9,877.3 324.4,896.7 327.8,896.7 330.6,876.6 339.0,876.6 343.1,895.4 347.0,895.4 350.1,881.5 353.0,881.5 355.0,894.0 359.8,891.2 363.3,881.5 368.2,882.2 373.7,887.0 384.8,890.5 400.1,892.6 405.7,894.0 419.6,894.7 429.3,896.0" fill="none" stroke="#000" stroke-width="3.6" stroke-linejoin="round" stroke-linecap="round" />
<path d="M429.3,812.5 C429.5,813.8 430.1,817.3 430.5,820.0 C430.9,822.7 431.2,827.3 431.8,828.5 C432.4,829.7 433.0,827.6 434.0,827.0 C435.0,826.4 437.3,825.3 438.0,825.0" fill="none" stroke="#e3161c" stroke-width="3.0" stroke-linejoin="round" stroke-linecap="round"/>
<path d="M423.8,815.0 C424.1,817.2 425.0,824.1 425.8,828.0 C426.6,831.9 427.9,836.8 428.6,838.5 C429.3,840.2 429.6,839.9 430.2,838.0 C430.8,836.1 431.4,829.4 432.4,827.0 C433.4,824.6 435.4,824.1 436.0,823.5" fill="none" stroke="#e3161c" stroke-width="3.0" stroke-linejoin="round" stroke-linecap="round"/>
<path d="M433.6,825.5 C434.3,825.0 434.9,823.5 438.0,822.5 C441.1,821.5 446.8,820.4 452.0,819.8 C457.2,819.2 464.2,818.8 469.4,818.7 C474.6,818.6 478.7,818.7 483.0,819.3 C487.3,819.9 490.3,820.2 495.0,822.1 C499.7,824.0 505.3,827.2 511.0,830.5 C516.7,833.8 522.0,838.5 529.0,841.8 C536.0,845.1 544.7,847.5 552.7,850.1 C560.7,852.7 568.9,855.4 576.8,857.1 C584.7,858.9 591.4,859.2 600.0,860.6 C608.6,862.0 617.3,863.6 628.4,865.3 C639.5,867.0 654.5,869.0 666.4,870.8 C678.3,872.6 686.1,874.3 700.0,876.1 C713.9,877.9 731.5,879.9 750.0,881.7 C768.5,883.6 791.7,885.6 811.2,887.2 C830.7,888.8 848.3,890.4 866.8,891.4 C885.3,892.4 906.8,892.8 922.3,893.2 C937.8,893.6 948.4,893.4 960.0,893.6 C971.6,893.8 981.8,894.0 991.8,894.6 C1001.8,895.2 1010.7,896.5 1020.0,897.5 C1029.3,898.5 1037.4,899.7 1047.4,900.4 C1057.4,901.1 1068.4,901.2 1080.0,901.6 C1091.6,902.0 1110.3,902.4 1116.9,902.5 C1123.5,902.6 1119.1,902.5 1119.5,902.5" fill="none" stroke="#e3161c" stroke-width="3.4" stroke-linejoin="round" stroke-linecap="round"/>
<path d="M433.6,827.3 C436.3,826.8 444.0,825.2 450.0,824.5 C456.0,823.8 460.5,823.1 469.4,823.0 C478.3,822.9 492.1,822.7 503.5,823.8 C514.9,824.9 529.0,827.3 537.6,829.8 C546.2,832.3 549.3,834.7 555.0,838.7 C560.7,842.7 566.9,848.7 571.7,853.7 C576.5,858.8 579.7,863.9 584.0,869.0 C588.3,874.1 593.0,879.1 597.3,884.4 C601.6,889.7 606.2,896.3 610.0,901.0 C613.8,905.7 615.4,908.6 620.0,912.7 C624.6,916.9 630.2,921.8 637.9,925.9 C645.6,930.0 656.9,933.5 666.4,937.3 C675.9,941.1 685.9,945.3 694.8,948.7 C703.7,952.1 709.9,955.0 720.0,957.5 C730.1,960.0 740.4,960.6 755.6,963.7 C770.8,966.8 795.0,973.0 811.2,976.2 C827.4,979.4 841.4,981.8 852.9,983.1 C864.4,984.5 875.5,984.1 880.0,984.3" fill="none" stroke="#e3161c" stroke-width="3.4" stroke-linejoin="round" stroke-linecap="round"/>
<polyline points="880.0,984.3 894.6,984.5 902.9,991.5 930.7,991.5 934.9,1006.8 941.8,991.5 983.5,992.9 991.8,999.8 1011.3,1001.2 1100.2,1019.3 1108.6,1015.7 1125.2,1017.9 1128.0,1019.5" fill="none" stroke="#e3161c" stroke-width="3.4" stroke-linejoin="round" stroke-linecap="round" />
<path d="M428.5,896.3 C428.8,896.4 426.2,896.6 430.2,897.2 C434.2,897.8 446.3,898.7 452.3,899.7 C458.3,900.7 462.6,901.5 466.0,903.2 C469.4,904.9 470.5,906.9 472.8,910.0 C475.1,913.1 477.3,916.5 479.6,921.9 C481.9,927.3 483.9,932.7 486.5,942.4 C489.1,952.1 492.2,967.4 495.2,980.0 C498.2,992.6 500.8,1004.6 504.6,1017.9 C508.4,1031.2 513.5,1048.2 517.9,1059.6 C522.3,1071.0 526.8,1077.9 531.2,1086.1 C535.6,1094.3 540.3,1103.2 544.4,1108.9 C548.5,1114.6 552.0,1117.2 555.8,1120.2 C559.6,1123.2 563.6,1125.0 567.2,1126.9 C570.8,1128.8 575.9,1130.8 577.6,1131.6" fill="none" stroke="#e3161c" stroke-width="3.4" stroke-linejoin="round" stroke-linecap="round"/>
<polyline points="577.6,1131.6 580.4,1128.8 593.7,1128.8 612.7,1131.6 632.5,1135.4 634.4,1146.8 640.1,1147.7 643.0,1138.2 655.3,1138.2 657.2,1156.2 661.9,1152.4 673.3,1152.4 678.0,1147.7 686.6,1147.7 694.1,1156.2" fill="none" stroke="#e3161c" stroke-width="3.4" stroke-linejoin="round" stroke-linecap="round" />
<path d="M694.1,1156.2 C696.3,1157.2 702.0,1159.7 707.4,1161.9 C712.8,1164.1 718.8,1167.0 726.4,1169.5 C734.0,1172.0 744.0,1175.2 752.9,1177.1 C761.8,1179.0 770.5,1179.8 780.0,1180.9 C789.5,1182.1 801.0,1183.2 810.0,1184.0 C819.0,1184.8 825.7,1185.8 834.0,1186.0 C842.3,1186.2 852.3,1185.5 860.0,1185.0 C867.7,1184.5 872.2,1184.1 880.0,1183.0 C887.8,1181.9 896.6,1179.2 906.6,1178.5 C916.6,1177.8 929.6,1178.8 940.0,1178.8 C950.4,1178.8 960.5,1178.0 968.8,1178.5 C977.1,1179.0 984.1,1180.4 990.0,1181.5 C995.9,1182.6 1001.9,1184.6 1004.3,1185.2" fill="none" stroke="#e3161c" stroke-width="3.4" stroke-linejoin="round" stroke-linecap="round"/>
<polyline points="1004.3,1185.2 1008.8,1198.5 1015.0,1196.0 1020.0,1198.0 1030.0,1194.5 1044.3,1194.1 1080.0,1195.0 1100.0,1195.9 1111.6,1194.2 1121.8,1195.9" fill="none" stroke="#e3161c" stroke-width="3.4" stroke-linejoin="round" stroke-linecap="round" />
<path d="M1119.9,910.3 C1120.7,911.2 1122.9,914.0 1124.6,916.0 C1126.3,918.0 1128.1,921.0 1130.3,922.6 C1132.5,924.2 1131.9,924.4 1137.9,925.5 C1143.9,926.6 1156.8,927.9 1166.3,929.3 C1175.8,930.7 1183.7,933.0 1194.8,934.0 C1205.9,935.0 1220.1,935.0 1232.7,935.3 C1245.3,935.6 1258.0,935.8 1270.6,935.9 C1283.2,936.0 1297.5,935.0 1308.5,935.9 C1319.5,936.8 1330.0,939.2 1336.9,941.0 C1343.8,942.8 1343.3,945.2 1350.1,946.7 C1356.9,948.2 1373.0,949.2 1377.6,949.7" fill="none" stroke="#2ef22e" stroke-width="3.3" stroke-linejoin="round" stroke-linecap="round"/>
<path d="M1128.4,1020.2 C1128.6,1023.1 1127.8,1032.9 1129.4,1037.3 C1131.0,1041.7 1135.5,1043.3 1137.9,1046.8 C1140.3,1050.3 1140.4,1055.4 1143.6,1058.1 C1146.8,1060.8 1148.4,1061.3 1156.9,1062.9 C1165.4,1064.5 1182.2,1066.3 1194.8,1067.6 C1207.4,1068.8 1220.1,1069.5 1232.7,1070.4 C1245.3,1071.4 1259.5,1072.5 1270.6,1073.3 C1281.6,1074.1 1291.1,1073.8 1299.0,1075.2 C1306.9,1076.6 1310.0,1080.2 1317.9,1081.8 C1325.8,1083.4 1335.2,1083.3 1346.4,1084.7 C1357.6,1086.1 1378.7,1089.1 1385.2,1090.0" fill="none" stroke="#2ef22e" stroke-width="3.3" stroke-linejoin="round" stroke-linecap="round"/>
<polyline points="1121.8,1197.1 1124.7,1208.1 1134.9,1216.8 1172.7,1218.3 1216.2,1218.3 1239.5,1214.5 1274.4,1214.5 1320.9,1217.4 1323.8,1224.1 1326.0,1219.0 1332.5,1219.7 1341.2,1224.1 1360.1,1227.0" fill="none" stroke="#2ef22e" stroke-width="3.3" stroke-linejoin="round" stroke-linecap="round" />
<path d="M1379.0,962.0 C1379.5,964.1 1378.8,971.4 1382.0,974.7 C1385.2,978.0 1390.9,979.6 1398.0,981.7 C1405.1,983.8 1420.0,986.5 1424.4,987.4" fill="none" stroke="#2a1fe0" stroke-width="3.2" stroke-linejoin="round" stroke-linecap="round"/>
<path d="M1388.3,1103.5 C1388.5,1104.5 1388.4,1108.5 1389.6,1109.2 C1390.8,1109.9 1393.5,1108.2 1395.3,1107.9 C1397.1,1107.6 1397.6,1106.3 1400.3,1107.3 C1403.0,1108.2 1407.9,1112.3 1411.7,1113.6 C1415.5,1114.9 1418.9,1113.8 1423.1,1114.9 C1427.3,1116.1 1434.7,1119.6 1437.0,1120.5" fill="none" stroke="#2a1fe0" stroke-width="3.2" stroke-linejoin="round" stroke-linecap="round"/>
<path d="M1364.5,1237.2 C1366.9,1238.1 1369.8,1240.6 1379.0,1242.4 C1388.2,1244.2 1412.8,1247.0 1419.7,1248.3 C1426.6,1249.6 1420.4,1249.7 1420.5,1250.0" fill="none" stroke="#2a1fe0" stroke-width="3.2" stroke-linejoin="round" stroke-linecap="round"/>
<path d="M1425.0,1004.4 C1426.8,1005.2 1430.8,1007.6 1435.8,1009.5 C1440.8,1011.4 1447.8,1013.8 1454.8,1015.8 C1461.8,1017.8 1474.2,1020.5 1478.1,1021.5" fill="none" stroke="#ff10ff" stroke-width="3.2" stroke-linejoin="round" stroke-linecap="round"/>
<path d="M1437.6,1135.1 C1438.1,1136.0 1438.4,1138.8 1440.8,1140.8 C1443.2,1142.8 1447.5,1144.8 1452.1,1147.1 C1456.7,1149.4 1462.9,1152.5 1468.5,1154.6 C1474.1,1156.7 1482.8,1158.8 1485.6,1159.7" fill="none" stroke="#ff10ff" stroke-width="3.2" stroke-linejoin="round" stroke-linecap="round"/>
<path d="M1421.1,1250.3 C1421.4,1251.6 1420.0,1256.5 1423.2,1258.1 C1426.4,1259.7 1432.8,1259.1 1440.0,1260.0 C1447.2,1260.9 1461.8,1262.8 1466.2,1263.3" fill="none" stroke="#ff10ff" stroke-width="3.2" stroke-linejoin="round" stroke-linecap="round"/>
<path d="M1478.8,1039.8 C1480.0,1040.8 1481.9,1044.3 1486.3,1046.1 C1490.7,1047.9 1498.3,1049.1 1505.3,1050.5 C1512.2,1051.9 1524.2,1053.7 1528.0,1054.3" fill="none" stroke="#0b6614" stroke-width="3.2" stroke-linejoin="round" stroke-linecap="round"/>
<path d="M1486.2,1174.2 C1487.0,1175.0 1487.9,1177.9 1491.3,1179.3 C1494.7,1180.7 1501.5,1181.5 1506.5,1182.4 C1511.5,1183.4 1516.1,1184.0 1521.6,1185.0 C1527.1,1186.0 1536.3,1187.6 1539.3,1188.1" fill="none" stroke="#0b6614" stroke-width="3.2" stroke-linejoin="round" stroke-linecap="round"/>
<path d="M1467.6,1272.1 C1469.8,1272.3 1476.1,1273.7 1480.7,1273.5 C1485.3,1273.3 1490.2,1271.6 1495.0,1271.0 C1499.8,1270.4 1507.3,1269.9 1509.8,1269.7" fill="none" stroke="#0b6614" stroke-width="3.2" stroke-linejoin="round" stroke-linecap="round"/>
<rect x="230.2" y="758.3" width="1333.8" height="584.8" fill="none" stroke="#000" stroke-width="3.8"/>
<text transform="translate(367.6,794) scale(0.97,1)" x="0" y="0" font-size="31.5" text-anchor="start" fill="#000" >95 %</text>
<text transform="translate(357.3,848.6) scale(0.97,1)" x="0" y="0" font-size="31.5" text-anchor="start" fill="#000" >95 %</text>
<text transform="translate(358.2,933.9) scale(0.97,1)" x="0" y="0" font-size="31.5" text-anchor="start" fill="#000" >81 %</text>
<text transform="translate(466.5,804.2) scale(0.97,1)" x="0" y="0" font-size="31.5" text-anchor="start" fill="#e3161c" >1 ppm SO<tspan font-size="19" dy="7">2</tspan></text>
<text transform="translate(759.9,858.9) scale(0.97,1)" x="0" y="0" font-size="31.5" text-anchor="start" fill="#000" >T=500 °C</text>
<text transform="translate(753.0,966.5) scale(0.97,1)" x="0" y="0" font-size="31.5" text-anchor="start" fill="#000" >T=475 °C</text>
<text transform="translate(757.8,1156) scale(0.97,1)" x="0" y="0" font-size="31.5" text-anchor="start" fill="#000" >T=450 °C</text>
<text transform="translate(252.5,1313.2) scale(0.98,1)" x="0" y="0" font-size="36" text-anchor="start" fill="#000" >2 wt.% Rh/ZSM-5</text>
<text transform="translate(1047.9,891.4) scale(0.97,1)" x="0" y="0" font-size="31.5" text-anchor="start" fill="#e3161c" >79 %</text>
<text transform="translate(1057.3,997.6) scale(0.97,1)" x="0" y="0" font-size="31.5" text-anchor="start" fill="#e3161c" >58 %</text>
<text transform="translate(1040.9,1171.9) scale(0.97,1)" x="0" y="0" font-size="31.5" text-anchor="start" fill="#e3161c" >27 %</text>
<text transform="translate(1202.0,792.6) scale(0.97,1)" x="0" y="0" font-size="31.5" text-anchor="start" fill="#2ef22e" >2 ppm SO<tspan font-size="19" dy="7">2</tspan></text>
<text transform="translate(1354.4,820.7) scale(0.97,1)" x="0" y="0" font-size="31.5" text-anchor="start" fill="#2a1fe0" >5 ppm SO<tspan font-size="19" dy="7">2</tspan></text>
<text transform="translate(1395.2,863.4) scale(0.97,1)" x="0" y="0" font-size="31.5" text-anchor="start" fill="#ff10ff" >10 ppm SO<tspan font-size="19" dy="7">2</tspan></text>
<text transform="translate(1406.0,912.6) scale(0.97,1)" x="0" y="0" font-size="31.5" text-anchor="start" fill="#0b6614" >20 ppm SO<tspan font-size="19" dy="7">2</tspan></text>
<text x="1313.5" y="935" font-size="30.5" text-anchor="start" fill="#2ef22e" >71%</text>
<text x="1309.5" y="1070.4" font-size="30.5" text-anchor="start" fill="#2ef22e" >46%</text>
<text transform="translate(1280.4,1202.9) scale(0.97,1)" x="0" y="0" font-size="31.5" text-anchor="start" fill="#2ef22e" >21 %</text>
<text transform="translate(1385.3,969) scale(0.97,1)" x="0" y="0" font-size="31.5" text-anchor="start" fill="#2a1fe0" >64 %</text>
<text transform="translate(1385.2,1097.8) scale(0.97,1)" x="0" y="0" font-size="31.5" text-anchor="start" fill="#2a1fe0" >40 %</text>
<text transform="translate(1371.4,1225.6) scale(0.97,1)" x="0" y="0" font-size="31.5" text-anchor="start" fill="#2a1fe0" >17 %</text>
<text transform="translate(1436.1,1006.7) scale(0.97,1)" x="0" y="0" font-size="31.5" text-anchor="start" fill="#ff10ff" >57 %</text>
<text transform="translate(1437.0,1137.6) scale(0.97,1)" x="0" y="0" font-size="31.5" text-anchor="start" fill="#ff10ff" >33 %</text>
<text transform="translate(1418.5,1245.9) scale(0.97,1)" x="0" y="0" font-size="31.5" text-anchor="start" fill="#ff10ff" >14 %</text>
<text transform="translate(1489.4,1039.5) scale(0.97,1)" x="0" y="0" font-size="31.5" text-anchor="start" fill="#0b6614" >52 %</text>
<text transform="translate(1493.2,1174.2) scale(0.97,1)" x="0" y="0" font-size="31.5" text-anchor="start" fill="#0b6614" >28 %</text>
<text transform="translate(1483.8,1259.9) scale(0.97,1)" x="0" y="0" font-size="31.5" text-anchor="start" fill="#0b6614" >13 %</text>
</svg></body></html>
